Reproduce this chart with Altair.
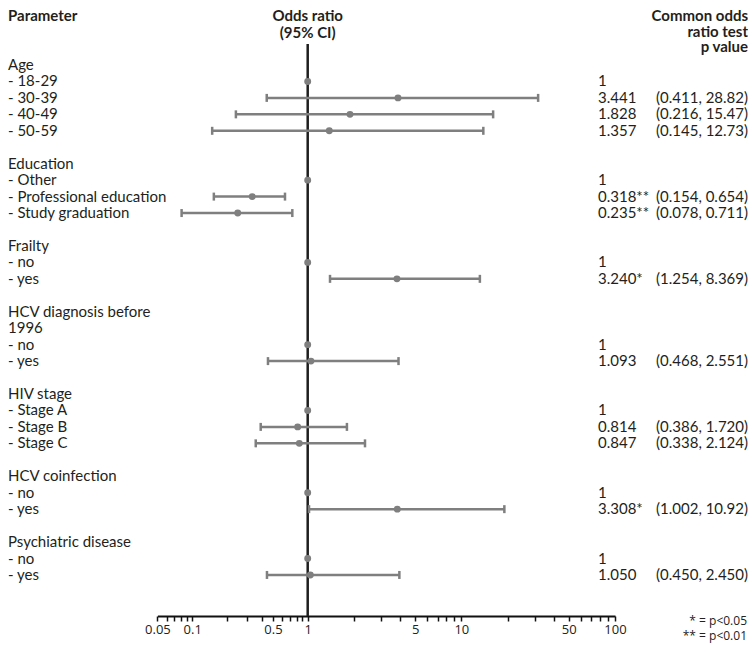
import altair as alt
import pandas as pd

# ---------------- data ----------------
row_labels = [
    "Age", "- 18-29", "- 30-39", "- 40-49", "- 50-59", "",
    "Education", "- Other", "- Professional education", "- Study graduation", "",
    "Frailty", "- no", "- yes", "",
    "HCV diagnosis before", "1996", "- no", "- yes", "",
    "HIV stage", "- Stage A", "- Stage B", "- Stage C", "",
    "HCV coinfection", "- no", "- yes", "",
    "Psychiatric disease", "- no", "- yes",
]

# printed odds ratios and CIs (right-hand columns)
or_rows = [1, 2, 3, 4, 7, 8, 9, 12, 13, 17, 18, 21, 22, 23, 26, 27, 30, 31]
or_text = ["1", "3.441", "1.828", "1.357", "1", "0.318**", "0.235**", "1", "3.240*",
           "1", "1.093", "1", "0.814", "0.847", "1", "3.308*", "1", "1.050"]
ci_rows = [2, 3, 4, 8, 9, 13, 18, 22, 23, 27, 31]
ci_text = ["(0.411, 28.82)", "(0.216, 15.47)", "(0.145, 12.73)", "(0.154, 0.654)",
           "(0.078, 0.711)", "(1.254, 8.369)", "(0.468, 2.551)", "(0.386, 1.720)",
           "(0.338, 2.124)", "(1.002, 10.92)", "(0.450, 2.450)"]

# plotted positions (on the drawn axis)
dot_est = [1, 3.87, 1.885, 1.382, 1, 0.331, 0.248, 1, 3.81,
           1, 1.05, 1, 0.819, 0.846, 1, 3.83, 1, 1.04]
ci_lo = [0.442, 0.239, 0.149, 0.154, 0.081, 1.397, 0.453, 0.392, 0.355, 1.02, 0.444]
ci_hi = [31.6, 16.1, 13.9, 0.636, 0.736, 13.2, 3.9, 1.80, 2.36, 19.05, 3.95]

tick_values = [0.05, 0.06, 0.07, 0.08, 0.09, 0.1, 0.2, 0.3, 0.4, 0.5, 0.6, 0.7, 0.8, 0.9, 1,
               2, 3, 4, 5, 6, 7, 8, 9, 10, 20, 30, 40, 50, 60, 70, 80, 90, 100]
tick_labels = [0.05, 0.1, 0.5, 1, 5, 10, 50, 100]

footnotes = ["*  = p<0.05", "** = p<0.01"]

# ---------------- tables ----------------
labels_df = pd.DataFrame({"row": list(range(len(row_labels))), "label": row_labels})
labels_df = labels_df[labels_df["label"] != ""]
or_df = pd.DataFrame({"row": or_rows, "txt": or_text, "est": dot_est})
ci_df = pd.DataFrame({"row": ci_rows, "txt": ci_text, "lo": ci_lo, "hi": ci_hi})

W, H = 740, 608
ROW0, ROWSTEP = 57.0, 16.45
LABEL_FONT = "Lato"
FS = 15
GREY = "#7f7f7f"
INK = "#231f20"

xscale = alt.Scale(type="log", domain=[0.05, 1, 100], range=[149.4, 299.7, 607], nice=False)
yscale = alt.Scale(domain=[-ROW0 / ROWSTEP, (H - ROW0) / ROWSTEP], range=[0, H], nice=False, zero=False)

x_axis = alt.Axis(
    values=tick_values, title=None, grid=False,
    labelExpr="indexof(%s, datum.value) >= 0 ? '' + datum.value : ''" % str(tick_labels),
    labelOverlap=False, labelFlush=False, labelFont="Open Sans", labelFontSize=13,
    labelColor="#222222", labelPadding=2,
    domainColor="#111111", domainWidth=2, tickColor="#111111", tickWidth=1.5, tickSize=5,
)

base_axis = alt.Chart(pd.DataFrame({"v": [1]})).mark_point(opacity=0).encode(
    x=alt.X("v:Q", scale=xscale, axis=x_axis)
)

ref_line = alt.Chart(pd.DataFrame({"v": [1]})).mark_rule(color="#1e1e1e", strokeWidth=2.5).encode(
    x=alt.X("v:Q", scale=xscale),
    y=alt.value(36), y2=alt.value(H),
)

ci_rule = alt.Chart(ci_df).mark_rule(color=GREY, strokeWidth=2.5).encode(
    x=alt.X("lo:Q", scale=xscale), x2="hi:Q",
    y=alt.Y("row:Q", scale=yscale, axis=None),
)
cap_lo = alt.Chart(ci_df).mark_tick(color=GREY, orient="vertical", size=8, thickness=2.5, opacity=1).encode(
    x=alt.X("lo:Q", scale=xscale), y=alt.Y("row:Q", scale=yscale, axis=None),
)
cap_hi = alt.Chart(ci_df).mark_tick(color=GREY, orient="vertical", size=8, thickness=2.5, opacity=1).encode(
    x=alt.X("hi:Q", scale=xscale), y=alt.Y("row:Q", scale=yscale, axis=None),
)
dots = alt.Chart(or_df).mark_circle(color=GREY, size=48, opacity=1).encode(
    x=alt.X("est:Q", scale=xscale), y=alt.Y("row:Q", scale=yscale, axis=None),
)

left_text = alt.Chart(labels_df).mark_text(
    align="left", baseline="middle", font=LABEL_FONT, fontSize=FS, color=INK
).encode(x=alt.value(0), y=alt.Y("row:Q", scale=yscale, axis=None), text="label:N")

or_txt = alt.Chart(or_df).mark_text(
    align="left", baseline="middle", font=LABEL_FONT, fontSize=FS, color=INK
).encode(x=alt.value(590), y=alt.Y("row:Q", scale=yscale, axis=None), text="txt:N")

ci_txt = alt.Chart(ci_df).mark_text(
    align="right", baseline="middle", font=LABEL_FONT, fontSize=FS, color=INK
).encode(x=alt.value(740), y=alt.Y("row:Q", scale=yscale, axis=None), text="txt:N")

hdr_param = alt.Chart(pd.DataFrame({"t": ["Parameter"]})).mark_text(
    align="left", baseline="middle", font=LABEL_FONT, fontSize=FS, fontWeight="bold", color=INK
).encode(x=alt.value(0), y=alt.value(8), text="t:N")

hdr_or = alt.Chart(pd.DataFrame({"v": [1]})).mark_text(
    align="center", baseline="middle", font=LABEL_FONT, fontSize=FS, fontWeight="bold",
    color=INK, lineHeight=17, text=["Odds ratio", "(95% CI)"]
).encode(x=alt.X("v:Q", scale=xscale), y=alt.value(8))

hdr_p = alt.Chart(pd.DataFrame({"v": [1]})).mark_text(
    align="right", baseline="middle", font=LABEL_FONT, fontSize=FS, fontWeight="bold",
    color=INK, lineHeight=15.5, text=["Common odds", "ratio test", "p value"]
).encode(x=alt.value(740), y=alt.value(8))

foot_df = pd.DataFrame({"t": footnotes, "yy": [613, 628]})
foot = alt.Chart(foot_df).mark_text(
    align="right", baseline="middle", font="Open Sans", fontSize=12, color="#222222"
).encode(x=alt.value(739), y=alt.Y("yy:Q", scale=alt.Scale(domain=[0, H], range=[0, H]), axis=None), text="t:N")

chart = alt.layer(
    base_axis, ref_line, ci_rule, cap_lo, cap_hi, dots,
    left_text, or_txt, ci_txt, hdr_param, hdr_or, hdr_p, foot
).resolve_scale(y="independent").properties(
    width=W, height=H,
    autosize=alt.AutoSizeParams(type="none"),
    padding={"left": 0, "top": 0, "right": 0, "bottom": 28},
).configure_view(strokeWidth=0)

chart.save("out.html", embed_options={"renderer": "svg", "actions": False})
